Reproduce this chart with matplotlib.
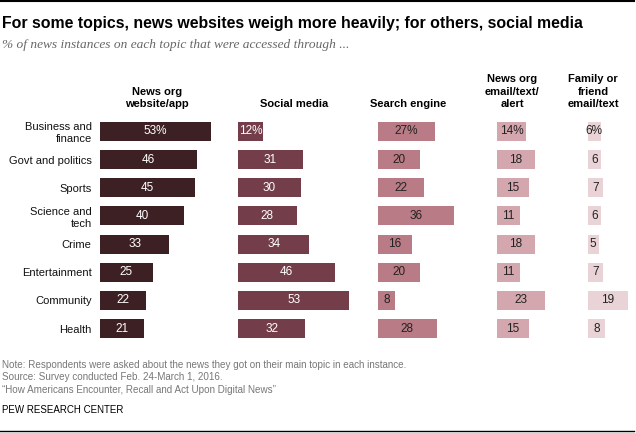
import matplotlib
matplotlib.use("Agg")
import matplotlib.pyplot as plt
from matplotlib.lines import Line2D

# --- DATA ---
topics = ["Business and\nfinance", "Govt and politics", "Sports", "Science and\ntech",
          "Crime", "Entertainment", "Community", "Health"]
headers = ["News org\nwebsite/app", "Social media", "Search engine",
           "News org\nemail/text/\nalert", "Family or\nfriend\nemail/text"]
news_site = [53, 46, 45, 40, 33, 25, 22, 21]
social = [12, 31, 30, 28, 34, 46, 53, 32]
search = [27, 20, 22, 36, 16, 20, 8, 28]
news_email = [14, 18, 15, 11, 18, 11, 23, 15]
family = [6, 6, 7, 6, 5, 7, 19, 8]
series = [news_site, social, search, news_email, family]

# --- STYLE / LAYOUT (pixels) ---
W, H = 636, 433
colors = ["#3d2024", "#733e4a", "#b97b85", "#d4a7ae", "#ead3d6"]
text_colors = ["white", "white", "#222222", "#222222", "#222222"]
col_start = [100, 238, 378, 497, 588]
header_x = [157, 294, 408, 512, 593]
px_per_pct = 2.1
rows_top, rows_bottom = 117.4, 342.6

plt.rcParams['font.family'] = ['Liberation Sans', 'DejaVu Sans']

fig = plt.figure(figsize=(W / 100, H / 100), dpi=100)


def fx(px):
    return px / W


def fy(py):
    return 1 - py / H


n = len(topics)
for i, vals in enumerate(series):
    width_px = 140 if i < 4 else W - col_start[i] - 2
    ax = fig.add_axes([fx(col_start[i]), fy(rows_bottom),
                       width_px / W, (rows_bottom - rows_top) / H])
    ax.barh(range(n), vals, height=0.675, color=colors[i])
    ax.set_xlim(0, width_px / px_per_pct)
    ax.set_ylim(n - 0.5, -0.5)
    for s in ax.spines.values():
        s.set_visible(False)
    ax.set_xticks([])
    if i == 0:
        ax.set_yticks(range(n))
        ax.set_yticklabels(topics, fontsize=8, color="#111111")
        ax.tick_params(axis='y', length=0, pad=6)
    else:
        ax.set_yticks([])
    for j, v in enumerate(vals):
        label = f"{v}%" if j == 0 else str(v)
        ax.text(v / 2, j, label, ha='center', va='center',
                fontsize=8.5, color=text_colors[i])

# column headers
for i, h in enumerate(headers):
    fig.text(fx(header_x[i]), fy(109), h, ha='center', va='bottom',
             fontsize=8, fontweight='bold', linespacing=1.3)

# title and subtitle
fig.text(fx(2), fy(28), "For some topics, news websites weigh more heavily; for others, social media",
         ha='left', va='baseline', fontsize=11.4, fontweight='bold')
fig.text(fx(2), fy(48), "% of news instances on each topic that were accessed through ...",
         ha='left', va='baseline', fontsize=9.6, style='italic',
         family=['Liberation Serif', 'DejaVu Serif'], color="#666666")

# footer
foot = ("Note: Respondents were asked about the news they got on their main topic in each instance.\n"
        "Source: Survey conducted Feb. 24-March 1, 2016.\n"
        "\u201cHow Americans Encounter, Recall and Act Upon Digital News\u201d")
fig.text(fx(2), fy(360), foot, ha='left', va='top', fontsize=7.1,
         color="#777777", linespacing=1.3)
fig.text(fx(2), fy(405), "PEW RESEARCH CENTER", ha='left', va='top',
         fontsize=7, color="black")

# rules at top and bottom
fig.add_artist(Line2D([0, fx(634)], [fy(1), fy(1)], color="black", lw=1.5))
fig.add_artist(Line2D([0, fx(634)], [fy(431), fy(431)], color="black", lw=1))

fig.savefig("out.png", dpi=100)
